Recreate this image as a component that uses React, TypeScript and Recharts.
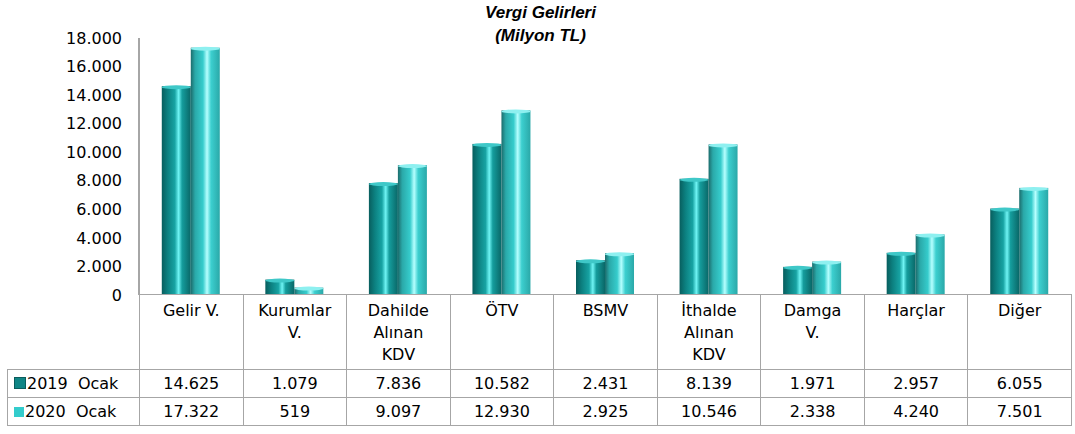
import React from 'react';
import { BarChart, Bar, XAxis, YAxis } from 'recharts';

const categories = ['Gelir V.', 'Kurumlar V.', 'Dahilde Alınan KDV', 'ÖTV', 'BSMV', 'İthalde Alınan KDV', 'Damga V.', 'Harçlar', 'Diğer'];
const tableLabels = [['Gelir V.'], ['Kurumlar', 'V.'], ['Dahilde', 'Alınan', 'KDV'], ['ÖTV'], ['BSMV'], ['İthalde', 'Alınan', 'KDV'], ['Damga', 'V.'], ['Harçlar'], ['Diğer']];
const ocak2019 = [14625, 1079, 7836, 10582, 2431, 8139, 1971, 2957, 6055];
const ocak2020 = [17322, 519, 9097, 12930, 2925, 10546, 2338, 4240, 7501];
const yTicks = [0, 2000, 4000, 6000, 8000, 10000, 12000, 14000, 16000, 18000];
const seriesNames = ['2019  Ocak', '2020  Ocak'];

const data = categories.map((c, i) => ({ name: c, y2019: ocak2019[i], y2020: ocak2020[i] }));

const fmt = (v: number) => v.toLocaleString('de-DE');

const font = "'DejaVu Sans', sans-serif";
const border = '1px solid #a6a6a6';

const Cylinder = (props: any) => {
  const { x, y, width, height, gid, cap } = props;
  if (!height || height <= 0) return null;
  return (
    <g>
      <rect x={x} y={y} width={width} height={height} fill={`url(#${gid})`} />
      <ellipse cx={x + width / 2} cy={y + 1} rx={width / 2} ry={2} fill={cap} />
    </g>
  );
};

const colW = (1071 - 139) / 9;

export default function App() {
  return (
    <div style={{ position: 'absolute', left: 0, top: 0, width: 1075, height: 434, background: '#fff', fontFamily: font }}>
      <div style={{ position: 'absolute', left: 0, width: 1075, top: 1, textAlign: 'center', fontFamily: "'Liberation Sans', Arial, sans-serif", fontWeight: 'bold', fontStyle: 'italic', fontSize: 17, lineHeight: '23px', color: '#000', paddingLeft: 3 }}>
        Vergi Gelirleri
        <br />
        (Milyon TL)
      </div>
      <BarChart width={1075} height={312} data={data} margin={{ top: 38, right: 4, left: 0, bottom: 17 }} barCategoryGap="22%" barGap={0}>
        <defs>
          <linearGradient id="g2019" x1="0" y1="0" x2="1" y2="0">
            <stop offset="0%" stopColor="#085e5e" />
            <stop offset="20%" stopColor="#0c8080" />
            <stop offset="45%" stopColor="#17a3a3" />
            <stop offset="58%" stopColor="#6ff4f4" />
            <stop offset="70%" stopColor="#159d9d" />
            <stop offset="100%" stopColor="#096767" />
          </linearGradient>
          <linearGradient id="g2020" x1="0" y1="0" x2="1" y2="0">
            <stop offset="0%" stopColor="#1c6c6c" />
            <stop offset="15%" stopColor="#2aa9a9" />
            <stop offset="42%" stopColor="#36cccc" />
            <stop offset="56%" stopColor="#b6ffff" />
            <stop offset="70%" stopColor="#3ccfcf" />
            <stop offset="100%" stopColor="#2aa8a8" />
          </linearGradient>
        </defs>
        <XAxis dataKey="name" hide />
        <YAxis
          width={139}
          domain={[0, 18000]}
          ticks={yTicks}
          tickFormatter={fmt}
          tickSize={0}
          tickMargin={17}
          interval={0}
          axisLine={{ stroke: '#a6a6a6', strokeWidth: 2 }}
          tick={{ fill: '#000', fontSize: 16, fontFamily: font }}
        />
        <Bar dataKey="y2019" name={seriesNames[0]} isAnimationActive={false} shape={(p: any) => <Cylinder {...p} gid="g2019" cap="#3fc8c8" />} />
        <Bar dataKey="y2020" name={seriesNames[1]} isAnimationActive={false} shape={(p: any) => <Cylinder {...p} gid="g2020" cap="#8ef0f0" />} />
      </BarChart>
      <table
        style={{
          position: 'absolute',
          left: 7,
          top: 294,
          borderCollapse: 'collapse',
          tableLayout: 'fixed',
          width: 1065,
          fontFamily: font,
          fontSize: 16,
          color: '#000',
        }}
      >
        <colgroup>
          <col style={{ width: 132 }} />
          {categories.map((c) => (
            <col key={c} style={{ width: colW }} />
          ))}
        </colgroup>
        <tbody>
          <tr style={{ height: 75 }}>
            <td style={{ borderRight: border }} />
            {tableLabels.map((lines, ci) => (
              <td key={ci} style={{ border, verticalAlign: 'top', textAlign: 'center', lineHeight: '22px', padding: '5px 2px 0', whiteSpace: 'nowrap' }}>
                {lines.map((w, i) => (
                  <div key={i}>{w}</div>
                ))}
              </td>
            ))}
          </tr>
          {[ocak2019, ocak2020].map((row, ri) => (
            <tr key={ri} style={{ height: 28 }}>
              <td style={{ border, padding: '0 0 0 6px', whiteSpace: 'pre' }}>
                <span
                  style={{
                    display: 'inline-block',
                    width: 10,
                    height: 10,
                    marginRight: 1,
                    background: ri === 0 ? '#0f8585' : '#33cccc',
                    border: ri === 0 ? '1px solid #0a5c5c' : 'none',
                  }}
                />
                {seriesNames[ri]}
              </td>
              {row.map((v, i) => (
                <td key={i} style={{ border, textAlign: 'center', padding: 0 }}>
                  {fmt(v)}
                </td>
              ))}
            </tr>
          ))}
        </tbody>
      </table>
    </div>
  );
}
